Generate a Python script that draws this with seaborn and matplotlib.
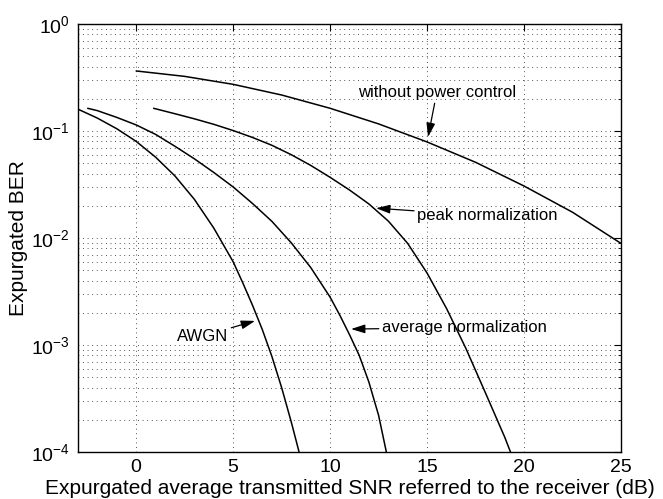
import numpy as np
import pandas as pd
import matplotlib
matplotlib.use("Agg")
import matplotlib.pyplot as plt
import seaborn as sns
from matplotlib.ticker import LogLocator, FixedLocator, NullFormatter

# SNR (dB) and expurgated BER for each scheme
snr_awgn = [-3, -2, -1, 0, 1, 2, 3, 4, 5, 5.5, 6, 6.5, 7, 7.5, 8, 8.4]
ber_awgn = [0.160, 0.132, 0.105, 0.080, 0.057, 0.038, 0.023, 0.0124, 0.0060,
            0.0038, 0.00235, 0.00140, 0.00078, 0.00040, 0.00019, 0.0001]

snr_avg = [-2.5, -2, -1, 0, 1, 2, 3, 4, 5, 6, 7, 8, 9, 10, 10.5, 11, 11.5,
           12, 12.5, 12.9]
ber_avg = [0.163, 0.155, 0.134, 0.114, 0.093, 0.072, 0.055, 0.041, 0.030,
           0.021, 0.0143, 0.0090, 0.0053, 0.0028, 0.0019, 0.00125, 0.00080,
           0.00045, 0.00022, 0.0001]

snr_peak = [0.9, 2, 3, 4, 5, 6, 7, 8, 9, 10, 11, 12, 13, 14, 15, 16, 17, 18,
            19, 19.3]
ber_peak = [0.163, 0.145, 0.130, 0.1155, 0.101, 0.087, 0.0735, 0.060, 0.0477,
            0.0369, 0.0281, 0.0208, 0.0144, 0.0089, 0.0047, 0.0022, 0.00093,
            0.00036, 0.000138, 0.0001]

snr_nopc = [0, 2.5, 5, 7.5, 10, 12.5, 15, 17.5, 20, 22.5, 25]
ber_nopc = [0.364, 0.324, 0.273, 0.217, 0.163, 0.1165, 0.079, 0.051, 0.0306,
            0.0174, 0.0089]

x_ticks = [0, 5, 10, 15, 20, 25]
y_ticks = [1e-4, 1e-3, 1e-2, 1e-1, 1e0]

sns.set_theme(style="white")
plt.rcParams["font.family"] = ["Liberation Sans", "DejaVu Sans"]
plt.rcParams["mathtext.fontset"] = "custom"
plt.rcParams["mathtext.rm"] = "Liberation Sans"
plt.rcParams["mathtext.default"] = "regular"

fig = plt.figure(figsize=(6.63, 4.99), dpi=100)
ax = fig.add_axes([0.1176, 0.0942, 0.8191, 0.8577])

for xs, ys in [(snr_awgn, ber_awgn), (snr_avg, ber_avg),
               (snr_peak, ber_peak), (snr_nopc, ber_nopc)]:
    df = pd.DataFrame({"snr": xs, "ber": ys})
    sns.lineplot(data=df, x="snr", y="ber", ax=ax, color="black", lw=1.1,
                 sort=False, estimator=None)

ax.set_yscale("log")
ax.set_xlim(-3, 25)
ax.set_ylim(1e-4, 1)
ax.xaxis.set_major_locator(FixedLocator(x_ticks))
ax.yaxis.set_major_locator(FixedLocator(y_ticks))
ax.yaxis.set_minor_locator(LogLocator(base=10, subs=np.arange(2, 10)))
ax.yaxis.set_minor_formatter(NullFormatter())

grid_kw = dict(color="0.1", linestyle=(0, (1, 4.5)), linewidth=0.6)
ax.grid(True, which="major", axis="both", **grid_kw)
ax.grid(True, which="minor", axis="y", **grid_kw)

ax.tick_params(which="both", direction="in", top=True, right=True,
               colors="black", labelsize=14)
ax.tick_params(which="major", length=5, width=0.8)
ax.tick_params(which="minor", length=2.5, width=0.6)
ax.tick_params(axis="x", pad=5)
ax.tick_params(axis="y", pad=6)
for s in ax.spines.values():
    s.set_color("black")
    s.set_linewidth(1.0)

ax.set_xlabel("Expurgated average transmitted SNR referred to the receiver (dB)",
              fontsize=15, labelpad=2, color="black")
ax.set_ylabel("Expurgated BER", fontsize=15, labelpad=2, color="black")

arrow = dict(arrowstyle="-|>,head_length=0.7,head_width=0.22",
             color="black", lw=0.9, shrinkA=0, shrinkB=0)
txt = dict(fontsize=12, color="black")

ax.annotate("without power control", xy=(15.05, 0.088), xytext=(15.5, 0.195),
            arrowprops=arrow, ha="center", va="bottom", **txt)
ax.annotate("peak normalization", xy=(12.37, 0.019), xytext=(14.5, 0.0161),
            arrowprops=arrow, ha="left", va="center", **txt)
ax.annotate("average normalization", xy=(11.08, 0.00141), xytext=(12.68, 0.00145),
            arrowprops=arrow, ha="left", va="center", **txt)
ax.annotate("AWGN", xy=(6.13, 0.00168), xytext=(4.74, 0.00121),
            arrowprops=arrow, ha="right", va="center", **txt)

fig.savefig("out.png", dpi=100)
